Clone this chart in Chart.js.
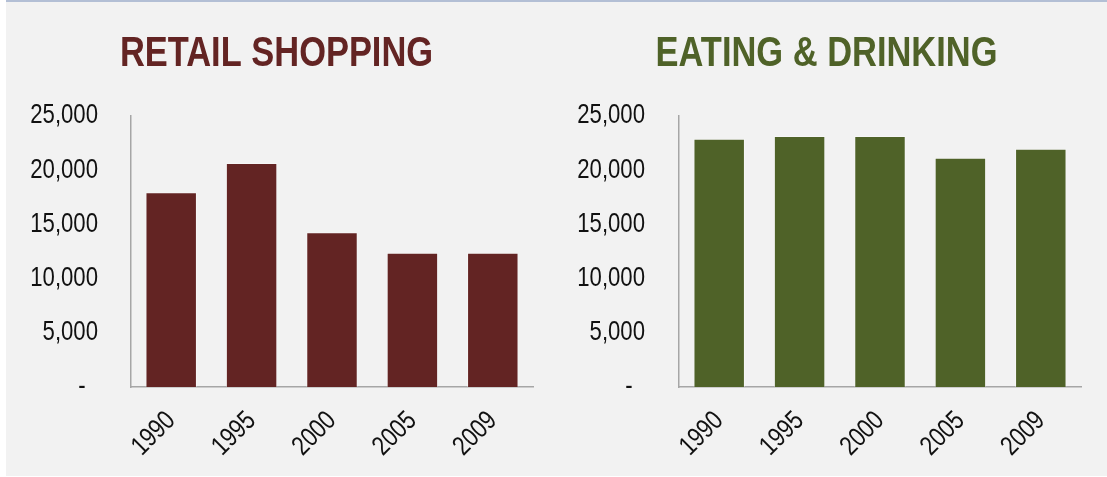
<!DOCTYPE html>
<html>
<head>
<meta charset="utf-8">
<script src="https://cdn.jsdelivr.net/npm/chart.js@4"></script>
<style>
  html, body { margin: 0; padding: 0; background: #ffffff; }
  body { width: 1107px; height: 477px; position: relative; overflow: hidden; }
  #bg { position: absolute; left: 6px; top: 0; width: 1101px; height: 476px; background: #f2f2f2; border-top: 2px solid #b3bfd5; box-sizing: border-box; }
  .wrap { position: absolute; top: 0; height: 477px; }
  #w1 { left: 0; width: 553px; }
  #w2 { left: 553px; width: 554px; }
</style>
</head>
<body>
<div id="bg"></div>
<div class="wrap" id="w1"><canvas id="c1" width="553" height="477"></canvas></div>
<div class="wrap" id="w2"><canvas id="c2" width="554" height="477"></canvas></div>
<script>
const years = ["1990", "1995", "2000", "2005", "2009"];
const retailShopping = [17960, 20660, 14270, 12390, 12390];
const eatingDrinking = [22910, 23150, 23150, 21150, 21980];
const yTickValues = [0, 5000, 10000, 15000, 20000, 25000];
const yTickLabels = ["-  ", "5,000", "10,000", "15,000", "20,000", "25,000"];
const titles = ["RETAIL SHOPPING", "EATING & DRINKING"];

const FONT = '"Liberation Sans", Arial, sans-serif';

// Draw text horizontally condensed (like Arial Narrow) around its anchor point.
const narrowText = {
  id: 'narrowText',
  beforeInit(chart) {
    const ctx = chart.ctx;
    const base = CanvasRenderingContext2D.prototype.fillText;
    ctx.fillText = function (t, x, y) {
      this.save();
      this.translate(x, y);
      this.scale(0.82, 1);
      base.call(this, t, 0, 0);
      this.restore();
    };
  }
};

function makeChart(id, title, values, color, yWidth, padRight, rightGap, tickPad) {
  return new Chart(document.getElementById(id), {
    type: 'bar',
    plugins: [narrowText],
    data: {
      labels: years,
      datasets: [{
        data: values,
        backgroundColor: color,
        borderColor: 'rgba(255,255,255,0.35)',
        borderWidth: 1,
        categoryPercentage: 0.8,
        barPercentage: 0.8
      }]
    },
    options: {
      responsive: false,
      animation: false,
      layout: { padding: { left: 0, right: padRight, top: 0, bottom: 0 } },
      plugins: {
        legend: { display: false },
        tooltip: { enabled: false },
        title: {
          display: true,
          text: title,
          color: color,
          font: { family: FONT, size: 42, weight: 'bold', lineHeight: 1 },
          padding: { top: 33, bottom: 41 }
        }
      },
      scales: {
        x: {
          grid: { display: false, drawTicks: false },
          border: { display: true, color: '#a6a6a6', width: 1.5 },
          ticks: {
            color: '#111111',
            font: { family: FONT, size: 27 },
            minRotation: 45,
            maxRotation: 45,
            padding: 18
          },
          afterFit: (s) => { s.height = 90; }
        },
        y: {
          min: 0,
          max: 25000,
          grid: { display: false, drawTicks: false },
          border: { display: true, color: '#a6a6a6', width: 1.5 },
          afterBuildTicks: (s) => { s.ticks = yTickValues.map(v => ({ value: v })); },
          ticks: {
            color: '#111111',
            font: { family: FONT, size: 27 },
            padding: tickPad,
            callback: (v) => yTickLabels[yTickValues.indexOf(v)]
          },
          afterFit: (s) => { s.width = yWidth; }
        },
        yGap: {
          position: 'right',
          display: true,
          grid: { display: false, drawTicks: false },
          border: { display: false },
          ticks: { display: false },
          afterFit: (s) => { s.width = rightGap; }
        }
      }
    }
  });
}

makeChart('c1', titles[0], retailShopping, '#632423', 131, 0, 20, 33);
makeChart('c2', titles[1], eatingDrinking, '#4f6228', 126, 7, 19, 34);
</script>
</body>
</html>
